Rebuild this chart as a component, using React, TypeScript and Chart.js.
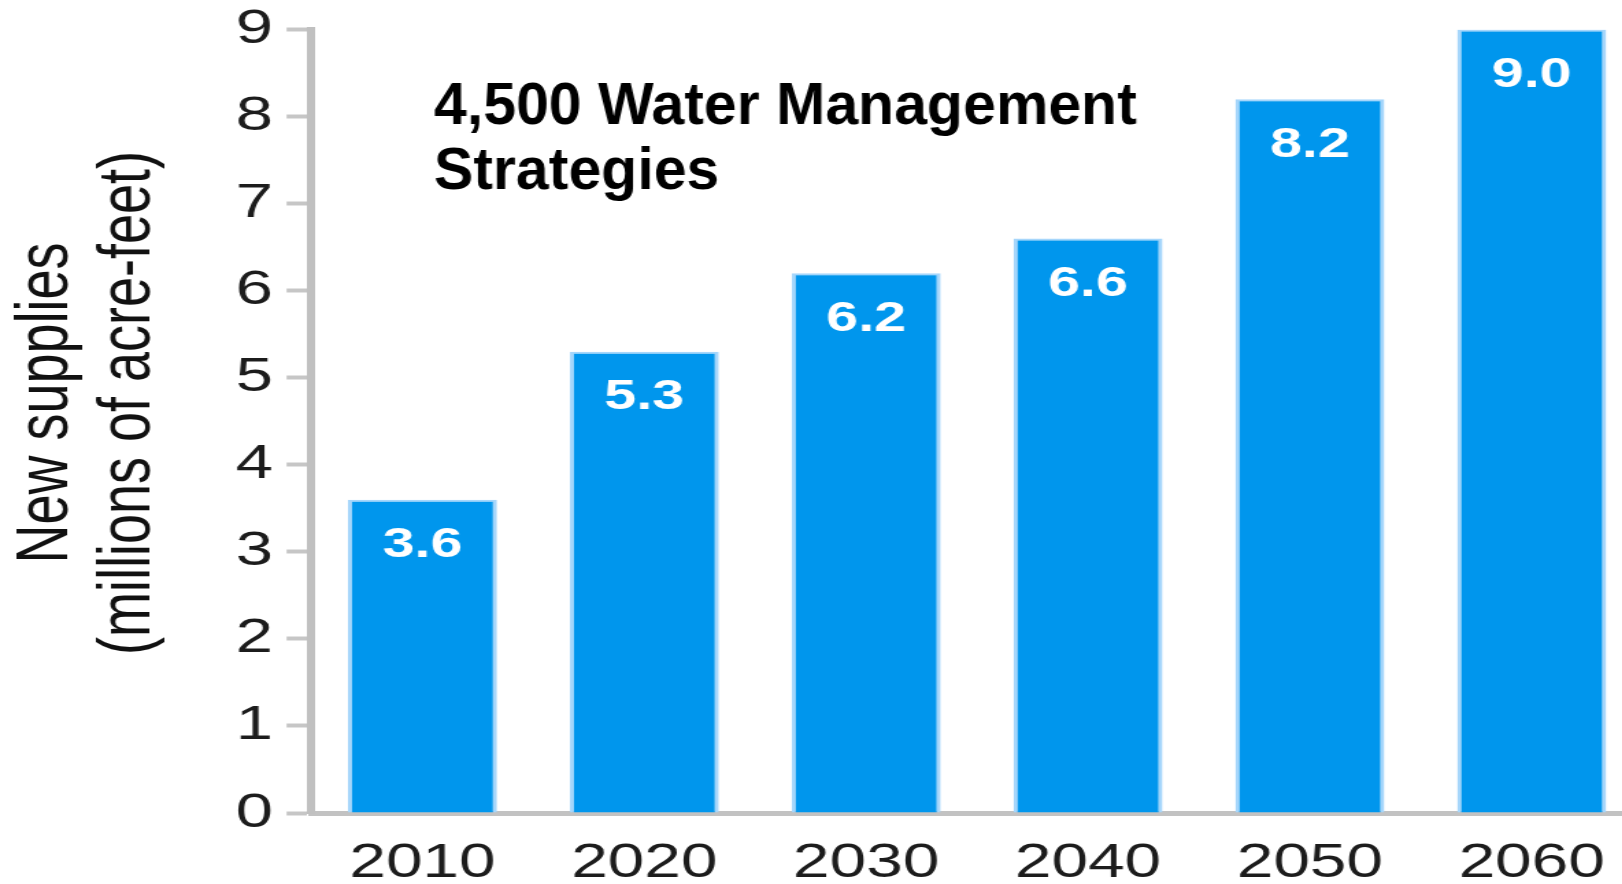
import React, { useEffect, useRef } from "react";
import { Chart, registerables } from "chart.js";

Chart.register(...registerables);

const categories = ["2010", "2020", "2030", "2040", "2050", "2060"];
const supplies = [3.6, 5.3, 6.2, 6.6, 8.2, 9.0];
const yMin = 0;
const yMax = 9;
const yStep = 1;
const titleLines = ["4,500 Water Management", "Strategies"];
const yTitleLines = ["New supplies", "(millions of acre-feet)"];

const S = 1.37; // horizontal stretch of the original picture
const FONT = "'Liberation Sans', Arial, Helvetica, sans-serif";
const INNER_W = 1212;
const H = 884;

const overlayPlugin = {
  id: "overlay",
  afterDatasetsDraw(chart: any) {
    const ctx = chart.ctx;
    const meta = chart.getDatasetMeta(0);
    ctx.save();
    ctx.fillStyle = "#ffffff";
    ctx.font = `bold 42px ${FONT}`;
    ctx.textAlign = "center";
    ctx.textBaseline = "middle";
    meta.data.forEach((bar: any, i: number) => {
      ctx.fillText(supplies[i].toFixed(1), bar.x, bar.y + 46);
    });
    ctx.restore();
  },
  afterDraw(chart: any) {
    const ctx = chart.ctx;
    // axis title (rotated, two lines)
    ctx.save();
    ctx.fillStyle = "#111111";
    ctx.font = `54px ${FONT}`;
    ctx.textAlign = "center";
    ctx.textBaseline = "middle";
    const cy = 403;
    const xs = [47 / S, 129 / S];
    yTitleLines.forEach((line, i) => {
      ctx.save();
      ctx.translate(xs[i], cy);
      ctx.rotate(-Math.PI / 2);
      ctx.fillText(line, 0, 0);
      ctx.restore();
    });
    ctx.restore();

    // caption drawn without the horizontal stretch
    ctx.save();
    ctx.scale(1 / S, 1);
    ctx.fillStyle = "#000000";
    ctx.font = `bold 59px ${FONT}`;
    ctx.textAlign = "left";
    ctx.textBaseline = "alphabetic";
    ctx.fillText(titleLines[0], 434, 124);
    ctx.fillText(titleLines[1], 434, 189);
    ctx.restore();
  },
};

export default function App() {
  const ref = useRef<HTMLCanvasElement | null>(null);

  useEffect(() => {
    if (!ref.current) return;
    const chart = new Chart(ref.current, {
      type: "bar",
      data: {
        labels: categories,
        datasets: [
          {
            data: supplies,
            backgroundColor: "#0096ed",
            borderColor: "#a6d6fb",
            borderWidth: { top: 2, left: 3, right: 3, bottom: 0 },
            borderSkipped: "bottom",
            barPercentage: 0.672,
            categoryPercentage: 1,
          },
        ],
      },
      options: {
        animation: false,
        responsive: true,
        maintainAspectRatio: false,
        layout: { padding: { top: 29, right: 13, bottom: 0, left: 0 } },
        plugins: {
          legend: { display: false },
          tooltip: { enabled: false },
        },
        scales: {
          x: {
            type: "category",
            offset: true,
            afterFit: (scale: any) => {
              scale.height = 71;
            },
            grid: { display: false, drawTicks: false },
            border: { display: true, color: "#c2c2c2", width: 5 },
            ticks: {
              color: "#1c1c1c",
              padding: 27,
              font: { family: FONT, size: 48, lineHeight: 1 },
            },
          },
          y: {
            min: yMin,
            max: yMax,
            afterFit: (scale: any) => {
              scale.width = 311.5 / S;
            },
            ticks: {
              stepSize: yStep,
              color: "#1c1c1c",
              padding: 10,
              font: { family: FONT, size: 49, lineHeight: 0.8 },
            },
            grid: {
              display: true,
              drawOnChartArea: false,
              drawTicks: true,
              tickLength: 18.2,
              tickColor: "#c6c6c6",
              tickWidth: 4,
            },
            border: { display: true, color: "#c0c0c0", width: 6 },
            title: { display: false },
          },
        },
      },
      plugins: [overlayPlugin],
    });
    return () => chart.destroy();
  }, []);

  return (
    <div
      style={{
        position: "fixed",
        left: 0,
        top: 0,
        width: 1622,
        height: H,
        overflow: "hidden",
        background: "#ffffff",
      }}
    >
      <div
        style={{
          position: "relative",
          width: INNER_W,
          height: H,
          transform: `scaleX(${S})`,
          transformOrigin: "0 0",
        }}
      >
        <canvas ref={ref} />
      </div>
    </div>
  );
}
